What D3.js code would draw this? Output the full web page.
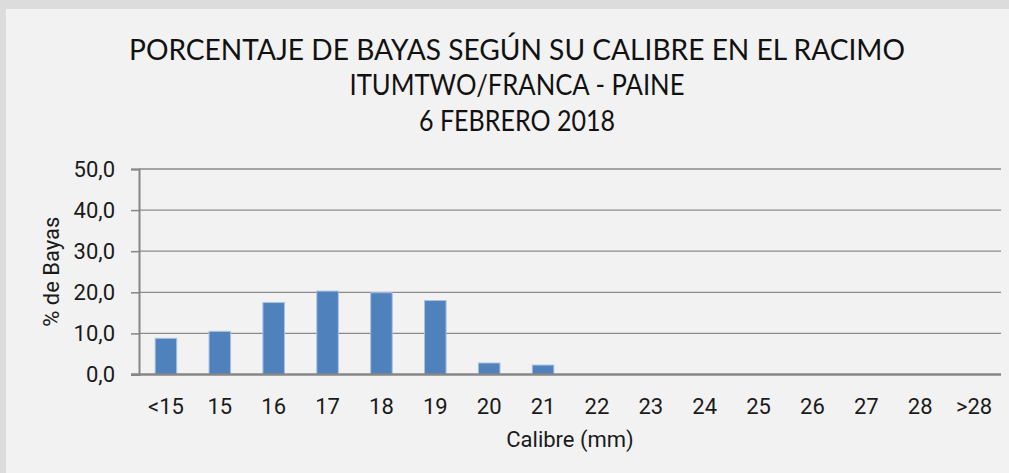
<!DOCTYPE html>
<html><head><meta charset="utf-8">
<script src="https://cdn.jsdelivr.net/npm/d3@7"></script>
<style>body{margin:0;background:#dcdcdc;}svg{display:block;}</style>
</head><body>
<svg id="c" width="1009" height="473"></svg>
<script>
const categories = ["<15","15","16","17","18","19","20","21","22","23","24","25","26","27","28",">28"];
const values = [8.8,10.5,17.5,20.3,19.9,18.0,2.8,2.3,0,0,0,0,0,0,0,0];
const yTicks = [0,10,20,30,40,50];
const titleLines = ["PORCENTAJE DE BAYAS SEGÚN SU CALIBRE EN EL RACIMO","ITUMTWO/FRANCA - PAINE","6 FEBRERO 2018"];
const xTitle = "Calibre (mm)";
const yTitle = "% de Bayas";

(function(){
const svg = d3.select("#c");
svg.append("rect").attr("x",0).attr("y",0).attr("width",1009).attr("height",473).attr("fill","#dcdcdc");
svg.append("rect").attr("x",6).attr("y",9).attr("width",1003).attr("height",464).attr("fill","#f2f2f2");

const pL=139, pR=1001, pT=169, pB=374.5;
const x = d3.scaleBand().domain(categories).range([pL,pR]).paddingInner(0.6).paddingOuter(0.3);
const y = d3.scaleLinear().domain([0,50]).range([pB,pT]);

svg.append("g").selectAll("line").data(yTicks.filter(d=>d>0)).join("line")
  .attr("x1",pL).attr("x2",pR).attr("y1",d=>y(d)).attr("y2",d=>y(d))
  .attr("stroke","#8a8a8a").attr("stroke-width",1.3);

svg.append("g").selectAll("rect").data(categories.map((c,i)=>({c,v:values[i]})).filter(d=>d.v>0)).join("rect")
  .attr("x",d=>x(d.c)).attr("width",x.bandwidth())
  .attr("y",d=>y(d.v)).attr("height",d=>y(0)-y(d.v))
  .attr("fill","#4f81bd").attr("stroke","#a9c1e0").attr("stroke-width",1);

const fs = 22;
const yAxis = d3.axisLeft(y).tickValues(yTicks).tickSize(8).tickPadding(16)
  .tickFormat(d=>d3.format(".1f")(d).replace(".",","));
const gy = svg.append("g").attr("transform",`translate(${pL},0)`).call(yAxis);
gy.select(".domain").attr("stroke","#868686").attr("stroke-width",2);
gy.selectAll(".tick line").attr("stroke","#868686").attr("stroke-width",1.5);
gy.selectAll("text").attr("font-family","Roboto").attr("font-size",fs).attr("fill","#1a1a1a");

const xAxis = d3.axisBottom(x).tickSize(0).tickPadding(24);
const gx = svg.append("g").attr("transform",`translate(0,${pB})`).call(xAxis);
gx.select(".domain").attr("stroke","#868686").attr("stroke-width",2.5).attr("d",`M${pL-8},0H${pR}`);
gx.selectAll("text").attr("font-family","Roboto").attr("font-size",fs).attr("fill","#1a1a1a");

svg.append("text").attr("x",(pL+pR)/2).attr("y",447).attr("text-anchor","middle")
  .attr("font-family","Roboto").attr("font-size",fs).attr("fill","#1a1a1a").text(xTitle);
svg.append("text").attr("transform",`translate(59,${(pT+pB)/2}) rotate(-90)`).attr("text-anchor","middle")
  .attr("font-family","Roboto").attr("font-size",fs).attr("fill","#1a1a1a").text(yTitle);

const baselines=[59.5,94.5,130.5];
const widths=[776,335,196];
titleLines.forEach((t,i)=>{
  svg.append("text").attr("x",517).attr("y",baselines[i]).attr("text-anchor","middle")
    .attr("font-family","Lato").attr("font-size",29.5).attr("fill","#111")
    .attr("textLength",widths[i]).attr("lengthAdjust","spacingAndGlyphs").text(t);
});
})();
</script>
</body></html>
